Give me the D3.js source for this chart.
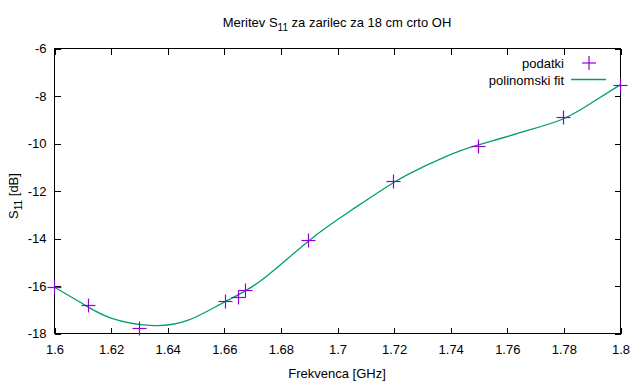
<!DOCTYPE html>
<html>
<head>
<meta charset="utf-8">
<script src="https://cdn.jsdelivr.net/npm/d3@7"></script>
<style>
  body { margin: 0; background: #fff; }
  svg { font-family: "Liberation Sans", Arial, sans-serif; font-size: 13px; }
</style>
</head>
<body>
<div id="chart"></div>
<script>
// measured points
const freq = [1.6, 1.612, 1.63, 1.6604, 1.665, 1.6675, 1.6898, 1.7198, 1.7498, 1.7799, 1.8];
const s11 = [-16.05, -16.82, -17.79, -16.65, -16.48, -16.19, -14.08, -11.6, -10.13, -8.9, -7.56];

// fit curve
const fitFreq = [1.6, 1.61, 1.62, 1.634, 1.647, 1.66, 1.673, 1.69, 1.705, 1.72, 1.73, 1.743, 1.755, 1.767, 1.779, 1.788, 1.8];
const fitS11 = [-16.05, -16.75, -17.35, -17.66, -17.45, -16.68, -15.77, -14.08, -12.8, -11.63, -11.0, -10.32, -9.88, -9.46, -9.0, -8.42, -7.52];

const xTicks = [1.6, 1.62, 1.64, 1.66, 1.68, 1.7, 1.72, 1.74, 1.76, 1.78, 1.8];
const yTicks = [-18, -16, -14, -12, -10, -8, -6];

const width = 640, height = 384;
const margin = { top: 48, right: 20, bottom: 51, left: 54 };
const innerW = width - margin.left - margin.right;
const innerH = height - margin.top - margin.bottom;

const svg = d3.select('#chart')
	.append('svg')
	.attr('width', width)
	.attr('height', height);

const xScale = d3.scaleLinear().domain([1.6, 1.8]).range([0, innerW]);
const yScale = d3.scaleLinear().domain([-18, -6]).range([innerH, 0]);

const g = svg.append('g')
	.attr('transform', `translate(${margin.left + 0.5},${margin.top + 0.5})`);

// ticks on all four sides, pointing inward
const tickLen = 6;
const axisStyle = sel => {
	sel.select('.domain').remove();
	sel.selectAll('line').attr('stroke', '#000').attr('shape-rendering', 'crispEdges');
	sel.selectAll('text').attr('fill', '#000').style('font-size', '13px')
		.style('font-family', '"Liberation Sans", Arial, sans-serif');
};

g.append('g')
	.attr('transform', `translate(0,${innerH})`)
	.call(d3.axisBottom(xScale).tickValues(xTicks).tickSize(-tickLen).tickPadding(11).tickFormat(d3.format('')))
	.call(axisStyle);

g.append('g')
	.call(d3.axisTop(xScale).tickValues(xTicks).tickSize(-tickLen).tickFormat(''))
	.call(axisStyle);

g.append('g')
	.call(d3.axisLeft(yScale).tickValues(yTicks).tickSize(-tickLen).tickPadding(8))
	.call(axisStyle);

g.append('g')
	.attr('transform', `translate(${innerW},0)`)
	.call(d3.axisRight(yScale).tickValues(yTicks).tickSize(-tickLen).tickFormat(''))
	.call(axisStyle);

g.selectAll('.tick text').text(function() { return this.textContent.replace('−', '-'); });

// border
g.append('rect')
	.attr('width', innerW)
	.attr('height', innerH)
	.attr('fill', 'none')
	.attr('stroke', '#000')
	.attr('shape-rendering', 'crispEdges');

// fit line
const line = d3.line()
	.x(i => xScale(fitFreq[i]))
	.y(i => yScale(fitS11[i]))
	.curve(d3.curveNatural);

g.append('path')
	.attr('d', line(d3.range(fitFreq.length)))
	.attr('fill', 'none')
	.attr('stroke', '#009e73')
	.attr('stroke-width', 1.3);

// data crosses
const cross = 7;
const pts = g.append('g').attr('stroke', '#9400d3').attr('stroke-width', 1.2);
freq.forEach((f, i) => {
	const cx = Math.round(xScale(f)), cy = Math.round(yScale(s11[i]));
	pts.append('line').attr('x1', cx - cross).attr('x2', cx + cross).attr('y1', cy).attr('y2', cy);
	pts.append('line').attr('x1', cx).attr('x2', cx).attr('y1', cy - cross).attr('y2', cy + cross);
});

// legend
const leg = svg.append('g');
leg.append('text').attr('x', 564).attr('y', 68).attr('text-anchor', 'end').text('podatki');
leg.append('line').attr('x1', 582).attr('x2', 596).attr('y1', 63).attr('y2', 63).attr('stroke', '#9400d3').attr('stroke-width', 1.2);
leg.append('line').attr('x1', 589).attr('x2', 589).attr('y1', 56).attr('y2', 70).attr('stroke', '#9400d3').attr('stroke-width', 1.2);
leg.append('text').attr('x', 564).attr('y', 85).attr('text-anchor', 'end').text('polinomski fit');
leg.append('line').attr('x1', 571).attr('x2', 606).attr('y1', 79.5).attr('y2', 79.5).attr('stroke', '#009e73').attr('stroke-width', 1.3);

// title
const title = svg.append('text').attr('x', 337).attr('y', 27).attr('text-anchor', 'middle');
title.append('tspan').text('Meritev S');
title.append('tspan').attr('dy', 4).style('font-size', '10px').text('11');
title.append('tspan').attr('dy', -4).text(' za zarilec za 18 cm crto OH');

// axis labels
svg.append('text').attr('x', 337).attr('y', 378).attr('text-anchor', 'middle').text('Frekvenca [GHz]');

const yl = svg.append('text')
	.attr('transform', 'translate(18,196) rotate(-90)')
	.attr('text-anchor', 'middle');
yl.append('tspan').text('S');
yl.append('tspan').attr('dy', 4).style('font-size', '10px').text('11');
yl.append('tspan').attr('dy', -4).text(' [dB]');
</script>
</body>
</html>
